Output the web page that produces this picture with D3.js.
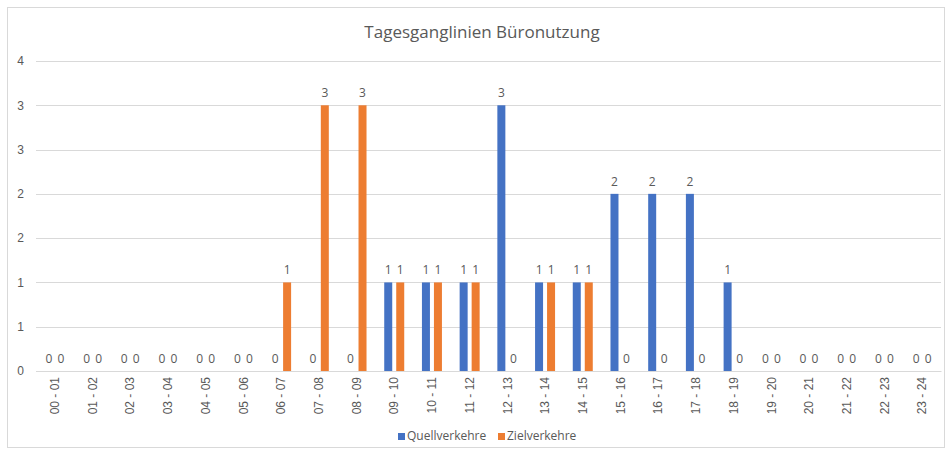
<!DOCTYPE html>
<html>
<head>
<meta charset="utf-8">
<script src="https://cdn.jsdelivr.net/npm/d3@7"></script>
<style>
body { margin: 0; background: #fff; }
svg { font-family: "Open Sans", "Noto Sans", sans-serif; }
</style>
</head>
<body>
<svg width="947" height="455"></svg>
<script>
var categories = ["00 - 01","01 - 02","02 - 03","03 - 04","04 - 05","05 - 06","06 - 07","07 - 08","08 - 09","09 - 10","10 - 11","11 - 12","12 - 13","13 - 14","14 - 15","15 - 16","16 - 17","17 - 18","18 - 19","19 - 20","20 - 21","21 - 22","22 - 23","23 - 24"];
var quellverkehre = [0,0,0,0,0,0,0,0,0,1,1,1,3,1,1,2,2,2,1,0,0,0,0,0];
var zielverkehre  = [0,0,0,0,0,0,1,3,3,1,1,1,0,1,1,0,0,0,0,0,0,0,0,0];
var yTicks = [0, 0.5, 1, 1.5, 2, 2.5, 3, 3.5];
var seriesNames = ["Quellverkehre", "Zielverkehre"];
var colors = ["#4472C4", "#ED7D31"];

var svg = d3.select("svg");
var margin = { top: 61, right: 6, bottom: 84, left: 36 },
	width = 947 - margin.left - margin.right,
	height = 455 - margin.top - margin.bottom;

// chart frame
svg.append("rect")
	.attr("x", 7.5).attr("y", 7.5)
	.attr("width", 937).attr("height", 440)
	.attr("fill", "#fff")
	.attr("stroke", "#D9D9D9");

svg.append("text")
	.attr("x", 482).attr("y", 38)
	.attr("text-anchor", "middle")
	.attr("fill", "#595959")
	.style("font-size", "17px")
	.text("Tagesganglinien Büronutzung");

var g = svg.append("g").attr("transform", "translate(" + margin.left + "," + margin.top + ")");

var xScale = d3.scaleBand()
	.domain(categories)
	.range([0, width]);

var yScale = d3.scaleLinear()
	.domain([0, 3.5])
	.range([height, 0]);

// gridlines
g.selectAll(".grid")
	.data(yTicks)
	.enter().append("line")
		.attr("x1", 0).attr("x2", width)
		.attr("y1", function(d) { return Math.round(yScale(d)) + 0.5; })
		.attr("y2", function(d) { return Math.round(yScale(d)) + 0.5; })
		.attr("stroke", "#D9D9D9");

var yAxis = d3.axisLeft(yScale)
	.tickValues(yTicks)
	.tickSize(0)
	.tickPadding(12)
	.tickFormat(function(d) { return Math.round(d + 0.001); });

g.append("g")
	.attr("class", "y axis")
	.call(yAxis)
	.call(function(s) { s.select(".domain").remove(); })
	.selectAll("text")
		.attr("fill", "#595959")
		.style("font-size", "12px");

var xAxis = d3.axisBottom(xScale).tickSize(0);

var xg = g.append("g")
	.attr("class", "x axis")
	.attr("transform", "translate(0," + height + ")")
	.call(xAxis);
xg.select(".domain").attr("stroke", "#D9D9D9");
xg.selectAll("text")
	.attr("fill", "#595959")
	.style("font-size", "12px")
	.attr("transform", "rotate(-90)")
	.attr("x", -6)
	.attr("y", 0)
	.attr("dy", "0.35em")
	.style("text-anchor", "end");

var barWidth = 8, gap = 4;
var series = [quellverkehre, zielverkehre];

series.forEach(function(values, si) {
	var offset = si === 0 ? -(gap / 2 + barWidth) : gap / 2;
	var data = categories.map(function(c, i) { return { cat: c, value: values[i] }; });
	var sg = g.append("g");
	sg.selectAll("rect")
		.data(data)
		.enter().append("rect")
			.attr("x", function(d) { return xScale(d.cat) + xScale.bandwidth() / 2 + offset; })
			.attr("y", function(d) { return yScale(d.value); })
			.attr("width", barWidth)
			.attr("height", function(d) { return height - yScale(d.value); })
			.attr("fill", colors[si]);
	sg.selectAll("text")
		.data(data)
		.enter().append("text")
			.attr("x", function(d) { return xScale(d.cat) + xScale.bandwidth() / 2 + offset + barWidth / 2; })
			.attr("y", function(d) { return yScale(d.value) - 8; })
			.attr("text-anchor", "middle")
			.attr("fill", "#595959")
			.style("font-size", "12px")
			.text(function(d) { return d.value; });
});

// legend
var legend = svg.append("g").attr("transform", "translate(398,436)");
var lx = [0, 100];
seriesNames.forEach(function(name, i) {
	legend.append("rect")
		.attr("x", lx[i]).attr("y", -3)
		.attr("width", 7).attr("height", 7)
		.attr("fill", colors[i]);
	legend.append("text")
		.attr("x", lx[i] + 9).attr("y", 0)
		.attr("dy", "0.35em")
		.attr("fill", "#595959")
		.style("font-size", "12px")
		.text(name);
});
</script>
</body>
</html>
